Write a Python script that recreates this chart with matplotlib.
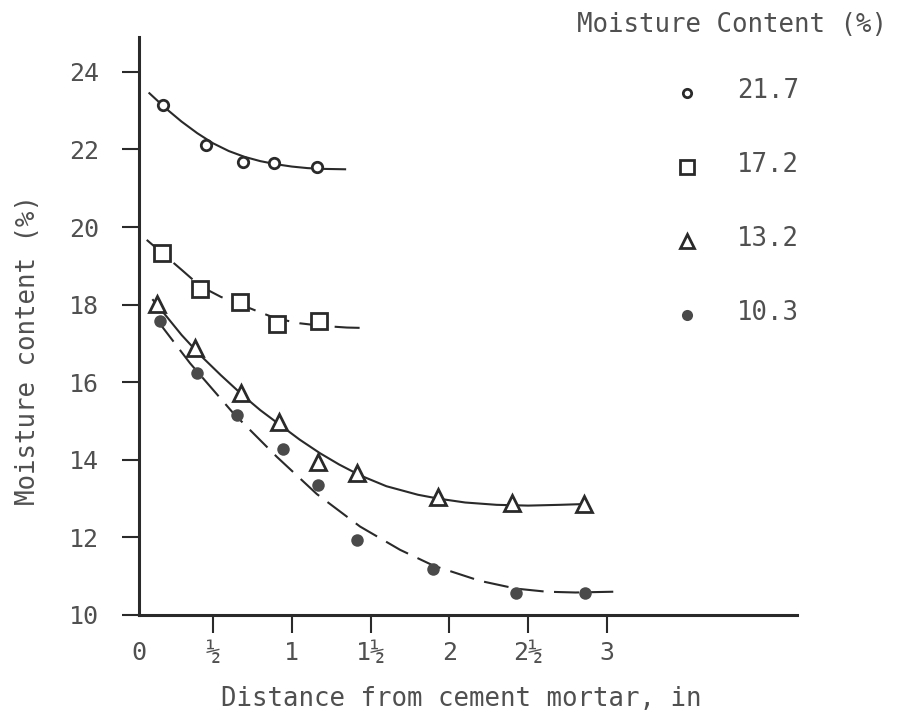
import matplotlib
matplotlib.use("Agg")
import matplotlib.pyplot as plt

plt.rcParams['font.family'] = ['DejaVu Sans Mono', 'DejaVu Sans']

TEXT = '#505050'
INK = '#2a2a2a'

# ---- data: measured points ----
x_217 = [0.185, 0.456, 0.688, 0.889, 1.162]
y_217 = [23.15, 22.12, 21.69, 21.66, 21.56]

x_172 = [0.174, 0.418, 0.671, 0.904, 1.173]
y_172 = [19.34, 18.40, 18.06, 17.50, 17.58]

x_132 = [0.143, 0.386, 0.676, 0.919, 1.168, 1.412, 1.93, 2.40, 2.854]
y_132 = [18.02, 16.88, 15.73, 14.98, 13.94, 13.65, 13.05, 12.90, 12.85]

x_103 = [0.164, 0.40, 0.65, 0.942, 1.168, 1.412, 1.894, 2.423, 2.86]
y_103 = [17.59, 16.25, 15.16, 14.27, 13.35, 11.93, 11.18, 10.57, 10.57]

# ---- data: fitted curves ----
cx_217 = [0.096, 0.2, 0.3, 0.4, 0.5, 0.6, 0.7, 0.8, 0.9, 1.0, 1.1, 1.2, 1.338]
cy_217 = [23.45, 23.06, 22.72, 22.42, 22.16, 21.96, 21.81, 21.70, 21.62, 21.56, 21.52, 21.50, 21.49]

cx_172 = [0.079, 0.174, 0.3, 0.418, 0.55, 0.671, 0.8, 0.904, 1.05, 1.2, 1.35, 1.452]
cy_172 = [19.67, 19.34, 18.90, 18.48, 18.20, 18.01, 17.80, 17.64, 17.52, 17.45, 17.41, 17.40]

cx_132 = [0.119, 0.206, 0.3, 0.418, 0.55, 0.692, 0.8, 0.925, 1.05, 1.179, 1.3, 1.433,
          1.6, 1.8, 1.93, 2.1, 2.3, 2.5, 2.7, 2.855]
cy_132 = [18.12, 17.69, 17.22, 16.70, 16.18, 15.65, 15.28, 14.90, 14.52, 14.17, 13.88, 13.60,
          13.32, 13.10, 13.00, 12.90, 12.84, 12.82, 12.84, 12.86]

cx_103 = [0.153, 0.354, 0.629, 0.904, 1.158, 1.433, 1.687, 1.9, 2.194, 2.423, 2.617, 2.8, 3.04]
cy_103 = [17.56, 16.49, 15.20, 14.08, 13.12, 12.28, 11.68, 11.27, 10.88, 10.68, 10.60, 10.58, 10.60]

# ---- axis ticks / labels ----
y_ticks = [10, 12, 14, 16, 18, 20, 22, 24]
x_ticks = [0.5, 1, 1.5, 2, 2.5, 3]
x_ticklabels = ['½', '1', '1½', '2', '2½', '3']
legend_title = 'Moisture Content (%)'
legend_labels = ['21.7', '17.2', '13.2', '10.3']

W, H = 899, 718
fig = plt.figure(figsize=(W / 100, H / 100), dpi=100)
ax = fig.add_axes([139 / W, 1 - 615 / H, (797 - 139) / W, (615 - 37) / H])

ax.set_xlim(0.03, 4.206)
ax.set_ylim(10, 24.90)

# curves
ax.plot(cx_217, cy_217, color=INK, lw=1.5, zorder=2)
ax.plot(cx_172, cy_172, color=INK, lw=1.5, ls=(0, (12, 5)), zorder=2)
ax.plot(cx_132, cy_132, color=INK, lw=1.5, zorder=2)
ax.plot(cx_103, cy_103, color=INK, lw=1.5, ls=(0, (12, 5)), zorder=2)

# markers
ax.plot(x_217, y_217, ls='none', marker='o', ms=7.5, mew=2, mfc='white', mec=INK, zorder=3)
ax.plot(x_172, y_172, ls='none', marker='s', ms=11, mew=2, mfc='white', mec=INK, zorder=3)
ax.plot(x_132, y_132, ls='none', marker='^', ms=12, mew=2, mfc='white', mec=INK, zorder=3)
ax.plot(x_103, y_103, ls='none', marker='o', ms=9, mew=0, mfc='#4a4a4a', zorder=3)

# spines
for s in ['top', 'right']:
    ax.spines[s].set_visible(False)
for s in ['left', 'bottom']:
    ax.spines[s].set_linewidth(2.2)
    ax.spines[s].set_color(INK)

ax.set_yticks(y_ticks)
ax.set_yticklabels([str(v) for v in y_ticks])
ax.set_xticks(x_ticks)
ax.set_xticklabels(x_ticklabels)
ax.set_xticks([0.03], ['0'], minor=True)

ax.tick_params(axis='y', direction='out', length=12, width=1.5, color=INK,
               pad=17, labelsize=18, labelcolor=TEXT)
ax.tick_params(axis='x', which='major', direction='out', length=13, width=1.5, color=INK,
               pad=6, labelsize=18, labelcolor=TEXT)
ax.tick_params(axis='x', which='minor', length=0, pad=19, labelsize=18, labelcolor=TEXT)

# axis labels
fig.text(28 / W, 1 - 350 / H, 'Moisture content (%)', rotation=90, ha='center', va='center',
         fontsize=18.5, color=TEXT)
fig.text(461 / W, 1 - 699 / H, 'Distance from cement mortar, in', ha='center', va='center',
         fontsize=18.5, color=TEXT)

# legend (manual)
fig.text(577 / W, 1 - 25 / H, legend_title, ha='left', va='center', fontsize=18.5, color=TEXT)
lax = fig.add_axes([0, 0, 1, 1], facecolor='none')
lax.set_xlim(0, W)
lax.set_ylim(H, 0)
lax.axis('off')
leg_styles = [
    dict(marker='o', ms=6, mew=2, mfc='white', mec=INK),
    dict(marker='s', ms=10, mew=2, mfc='white', mec=INK),
    dict(marker='^', ms=10, mew=2, mfc='white', mec=INK),
    dict(marker='o', ms=8, mew=0, mfc='#4a4a4a'),
]
y0, dy = 93, 74
for i, (lab, st) in enumerate(zip(legend_labels, leg_styles)):
    yy = y0 + i * dy
    lax.plot([687], [yy], ls='none', **st)
    lax.text(737, yy - 2, lab, ha='left', va='center', fontsize=18.5, color=TEXT)

fig.savefig('out.png', dpi=100)
